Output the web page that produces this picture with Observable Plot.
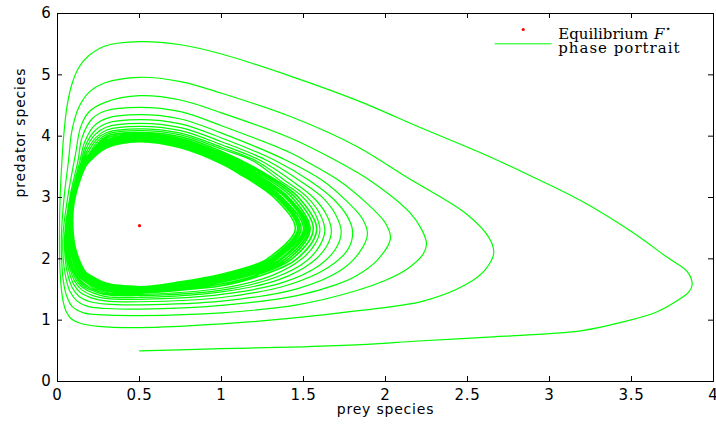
<!DOCTYPE html>
<html><head><meta charset="utf-8">
<script src="https://cdn.jsdelivr.net/npm/d3@7"></script>
<script src="https://cdn.jsdelivr.net/npm/@observablehq/plot@0.6"></script>
<style>
body{margin:0;background:#fff;}
#chart{width:716px;height:425px;}
g[font-family="DejaVu Serif"] text{letter-spacing:0px}
g[font-family="DejaVu Serif"][font-weight="400"] text{letter-spacing:1px}
</style></head><body><div id="chart"></div>
<script>
// ---- data (prey, predator) ----
const xTicks = [0, 0.5, 1, 1.5, 2, 2.5, 3, 3.5, 4];
const xTickLabels = ["0", "0.5", "1", "1.5", "2", "2.5", "3", "3.5", "4"];
const yTicks = [0, 1, 2, 3, 4, 5, 6];
const yTickLabels = ["0", "1", "2", "3", "4", "5", "6"];
const eqPrey = [0.5];
const eqPredator = [2.54];

const rev0 = [[0.5,0.5],[1.0,0.535],[1.5,0.565],[1.85,0.6],[2.2,0.66],[2.6,0.72],[3.0,0.78],[3.2,0.83],[3.43,0.96],[3.65,1.13],[3.78,1.32],[3.85,1.46],[3.87,1.58],[3.84,1.79],[3.72,2.02],[3.49,2.46],[3.19,2.95],[2.88,3.36],[2.58,3.73],[2.23,4.12],[1.83,4.58],[1.42,4.98],[1.0,5.34],[0.75,5.49],[0.5,5.54],[0.29,5.47],[0.19,5.31],[0.13,5.12],[0.088,4.85],[0.057,4.47],[0.037,3.98],[0.027,3.6],[0.016,3.0],[0.012,2.4],[0.014,1.9],[0.022,1.55],[0.035,1.3],[0.055,1.13],[0.085,1.02],[0.14,0.95],[0.25,0.9]];
const rev1 = [[0.5,0.88],[1.0,0.94],[1.46,1.04],[1.82,1.15],[2.23,1.31],[2.49,1.58],[2.61,1.83],[2.66,2.1],[2.63,2.35],[2.49,2.74],[2.13,3.33],[1.82,3.84],[1.42,4.32],[1.0,4.7],[0.75,4.89],[0.5,4.96],[0.29,4.87],[0.19,4.71],[0.13,4.47],[0.088,4.09],[0.067,3.6],[0.04,3.0],[0.024,2.4],[0.025,2.0],[0.035,1.65],[0.055,1.4],[0.09,1.22],[0.16,1.12],[0.28,1.085]];
const rev2 = [[0.5,1.075],[1.0,1.12],[1.46,1.25],[1.82,1.48],[2.0,1.65],[2.13,1.83],[2.23,2.08],[2.25,2.25],[2.22,2.48],[2.15,2.75],[1.91,3.27],[1.7,3.6],[1.42,3.97],[1.0,4.38],[0.75,4.59],[0.5,4.66],[0.29,4.55],[0.19,4.39],[0.14,4.14],[0.11,3.71],[0.062,3.0],[0.034,2.4],[0.035,2.0],[0.05,1.7],[0.075,1.47],[0.12,1.31],[0.19,1.22],[0.3,1.19]];
const rev3 = [[0.5,1.18],[1.0,1.24],[1.46,1.4],[1.7,1.58],[1.82,1.72],[1.95,1.98],[2.03,2.33],[2.0,2.58],[1.88,2.92],[1.72,3.27],[1.51,3.6],[1.42,3.73],[1.0,4.17],[0.75,4.4],[0.5,4.47],[0.29,4.41],[0.21,4.28],[0.15,3.98],[0.125,3.6],[0.075,3.0],[0.044,2.4],[0.047,2.0],[0.062,1.75],[0.09,1.53],[0.13,1.39],[0.2,1.3],[0.3,1.26]];
const rev4 = [[0.5,1.25],[1.0,1.31],[1.46,1.51],[1.72,1.8],[1.84,2.1],[1.89,2.4],[1.86,2.65],[1.76,2.95],[1.62,3.27],[1.4,3.6],[1.0,4.05],[0.75,4.28],[0.5,4.35],[0.3,4.29],[0.22,4.16],[0.165,3.9],[0.137,3.6],[0.082,3.0],[0.051,2.4],[0.055,2.0],[0.072,1.78],[0.1,1.58],[0.14,1.45],[0.21,1.36],[0.3,1.31]];
const rev5 = [[0.5,1.3],[1.0,1.37],[1.4,1.57],[1.65,1.86],[1.77,2.15],[1.8,2.43],[1.77,2.68],[1.68,2.98],[1.54,3.27],[1.33,3.6],[1.0,3.97],[0.75,4.2],[0.5,4.27],[0.3,4.21],[0.225,4.08],[0.17,3.84],[0.146,3.6],[0.087,3.0],[0.057,2.4],[0.062,2.0],[0.08,1.8],[0.108,1.62],[0.15,1.49],[0.215,1.4],[0.3,1.35]];
const rev6 = [[0.5,1.34],[1.0,1.42],[1.38,1.62],[1.6,1.9],[1.7,2.18],[1.73,2.44],[1.7,2.7],[1.62,2.99],[1.48,3.27],[1.28,3.6],[1.0,3.91],[0.75,4.14],[0.5,4.21],[0.3,4.15],[0.23,4.03],[0.175,3.8],[0.153,3.6],[0.091,3.0],[0.063,2.4],[0.068,2.0],[0.086,1.82],[0.114,1.65],[0.155,1.53],[0.22,1.44],[0.3,1.38]];
const rev7 = [[0.5,1.37],[1.0,1.46],[1.35,1.66],[1.55,1.94],[1.64,2.2],[1.67,2.45],[1.64,2.72],[1.56,3.0],[1.43,3.27],[1.24,3.6],[1.0,3.86],[0.75,4.09],[0.5,4.16],[0.3,4.1],[0.235,3.98],[0.18,3.76],[0.159,3.6],[0.094,3.0],[0.068,2.4],[0.073,2.02],[0.09,1.84],[0.12,1.67],[0.16,1.55],[0.225,1.47],[0.3,1.41]];
const rev8 = [[0.5,1.4],[1.0,1.49],[1.33,1.7],[1.52,1.97],[1.6,2.22],[1.63,2.46],[1.6,2.73],[1.52,3.01],[1.39,3.27],[1.21,3.6],[1.0,3.82],[0.75,4.05],[0.5,4.12],[0.3,4.06],[0.24,3.95],[0.185,3.73],[0.164,3.6],[0.097,3.0],[0.072,2.4],[0.077,2.03],[0.094,1.85],[0.124,1.69],[0.164,1.57],[0.23,1.49],[0.3,1.43]];
const rev9 = [[0.5,1.42],[1.0,1.52],[1.31,1.73],[1.49,2.0],[1.57,2.24],[1.6,2.47],[1.57,2.74],[1.49,3.02],[1.36,3.27],[1.19,3.6],[1.0,3.79],[0.75,4.02],[0.5,4.09],[0.3,4.03],[0.245,3.92],[0.19,3.7],[0.168,3.6],[0.099,3.0],[0.076,2.4],[0.08,2.04],[0.097,1.86],[0.127,1.7],[0.167,1.59],[0.232,1.51],[0.3,1.45]];
const rev10 = [[0.5,1.44],[0.75,1.49],[1.0,1.56],[1.22,1.71],[1.46,2.0],[1.58,2.48],[1.47,3.0],[1.26,3.4],[1.0,3.75],[0.75,3.99],[0.5,4.06],[0.3,4.0],[0.2,3.72],[0.159,3.5],[0.097,2.9],[0.08,2.3],[0.086,2.05],[0.133,1.71],[0.2,1.573],[0.3,1.47]];
const rev11 = [[0.5,1.455],[0.75,1.51],[1.0,1.59],[1.22,1.74],[1.43,2.0],[1.56,2.48],[1.45,3.0],[1.24,3.4],[1.0,3.72],[0.75,3.96],[0.5,4.04],[0.3,3.97],[0.2,3.7],[0.161,3.5],[0.098,2.9],[0.083,2.3],[0.092,2.05],[0.139,1.725],[0.2,1.597],[0.3,1.49]];
const rev12 = [[0.5,1.47],[0.75,1.53],[1.0,1.62],[1.22,1.77],[1.41,2.0],[1.54,2.48],[1.43,3.0],[1.22,3.4],[1.0,3.7],[0.75,3.94],[0.5,4.02],[0.3,3.94],[0.2,3.685],[0.162,3.5],[0.098,2.9],[0.085,2.3],[0.097,2.05],[0.144,1.735],[0.2,1.617],[0.3,1.51]];
const rev13 = [[0.5,1.48],[0.75,1.545],[1.0,1.64],[1.22,1.79],[1.39,2.0],[1.53,2.48],[1.41,3.0],[1.2,3.4],[1.0,3.675],[0.75,3.92],[0.5,4.0],[0.3,3.92],[0.2,3.673],[0.163,3.5],[0.098,2.9],[0.088,2.3],[0.101,2.05],[0.148,1.743],[0.2,1.634],[0.3,1.52]];
const rev14 = [[0.5,1.49],[0.75,1.556],[1.0,1.65],[1.22,1.81],[1.37,2.0],[1.52,2.48],[1.4,3.0],[1.18,3.4],[1.0,3.656],[0.75,3.9],[0.5,3.99],[0.3,3.91],[0.2,3.662],[0.164,3.5],[0.099,2.9],[0.089,2.3],[0.104,2.05],[0.151,1.75],[0.2,1.649],[0.3,1.53]];
const rev15 = [[0.5,1.5],[0.75,1.567],[1.0,1.67],[1.22,1.827],[1.36,2.0],[1.51,2.48],[1.39,3.0],[1.17,3.4],[1.0,3.639],[0.75,3.89],[0.5,3.98],[0.3,3.89],[0.2,3.652],[0.165,3.5],[0.099,2.9],[0.091,2.3],[0.107,2.05],[0.154,1.757],[0.2,1.662],[0.3,1.544]];
const rev16 = [[0.5,1.51],[0.75,1.578],[1.0,1.68],[1.22,1.845],[1.34,2.0],[1.5,2.48],[1.37,3.0],[1.16,3.4],[1.0,3.622],[0.75,3.87],[0.5,3.96],[0.3,3.88],[0.2,3.642],[0.166,3.5],[0.099,2.9],[0.093,2.3],[0.11,2.05],[0.157,1.763],[0.2,1.675],[0.3,1.555]];
const rev17 = [[0.5,1.52],[0.75,1.589],[1.0,1.7],[1.22,1.862],[1.33,2.0],[1.485,2.48],[1.36,3.0],[1.14,3.4],[1.0,3.605],[0.75,3.86],[0.5,3.95],[0.3,3.86],[0.2,3.632],[0.167,3.5],[0.099,2.9],[0.094,2.3],[0.113,2.05],[0.16,1.769],[0.2,1.687],[0.3,1.565]];
const rev18 = [[0.5,1.525],[0.75,1.6],[1.0,1.715],[1.22,1.88],[1.314,2.0],[1.474,2.48],[1.349,3.0],[1.13,3.4],[1.0,3.588],[0.75,3.844],[0.5,3.939],[0.3,3.845],[0.2,3.622],[0.168,3.5],[0.1,2.9],[0.096,2.3],[0.116,2.05],[0.163,1.776],[0.2,1.7],[0.3,1.576]];
const rev19 = [[0.5,1.534],[0.75,1.611],[1.0,1.73],[1.22,1.898],[1.299,2.0],[1.464,2.48],[1.336,3.0],[1.117,3.4],[1.0,3.572],[0.75,3.829],[0.5,3.926],[0.3,3.83],[0.2,3.613],[0.169,3.5],[0.1,2.9],[0.098,2.3],[0.119,2.05],[0.166,1.782],[0.2,1.713],[0.3,1.586]];
const limitCycle = [[0.5,1.545],[0.75,1.625],[1.0,1.75],[1.22,1.92],[1.28,2.0],[1.45,2.48],[1.32,3.0],[1.1,3.4],[1.0,3.55],[0.75,3.81],[0.5,3.91],[0.3,3.81],[0.2,3.6],[0.17,3.5],[0.1,2.9],[0.1,2.3],[0.123,2.05],[0.17,1.79],[0.2,1.73],[0.3,1.6],[0.5,1.545]];

const outerRevolutions = [rev0, rev1, rev2, rev3, rev4, rev5, rev6, rev7, rev8, rev9];
const innerRevolutions = [rev10, rev11, rev12, rev13, rev14, rev15, rev16, rev17, rev18, rev19, limitCycle];
const toRows = arr => arr.map(([prey, predator]) => ({prey, predator}));
const outerPath = toRows([...outerRevolutions.flat(), rev10[0]]);
const innerPath = toRows(innerRevolutions.flat());
const equilibrium = eqPrey.map((p, i) => ({prey: p, predator: eqPredator[i]}));

const legendLine = {draw(ctx) { ctx.moveTo(-28.5, 0); ctx.lineTo(28.5, 0); }};
const serif = "DejaVu Serif";
const green = "#00ff00";

const chart = Plot.plot({
  width: 716, height: 425,
  marginLeft: 57, marginRight: 3, marginTop: 13, marginBottom: 44,
  style: {fontFamily: "DejaVu Sans", fontSize: "15px", background: "white", color: "black", letterSpacing: "0.8px"},
  x: {domain: [0, 4], ticks: xTicks, tickSize: 0, tickPadding: 8, tickFormat: d => xTickLabels[xTicks.indexOf(d)], label: null},
  y: {domain: [0, 6], ticks: yTicks, tickSize: 0, tickPadding: 6, tickFormat: d => yTickLabels[yTicks.indexOf(d)], label: null},
  marks: [
    Plot.line(outerPath, {x: "prey", y: "predator", curve: "catmull-rom", stroke: green, strokeWidth: 1.2}),
    Plot.line(innerPath, {x: "prey", y: "predator", curve: "catmull-rom", stroke: green, strokeWidth: 1.6}),
    Plot.dot(equilibrium, {x: "prey", y: "predator", r: 1.6, fill: "#ff0000", stroke: "none"}),
    Plot.tickX(xTicks, {x: d => d, insetTop: 363, stroke: "black"}),
    Plot.tickX(xTicks, {x: d => d, insetBottom: 363, stroke: "black"}),
    Plot.tickY(yTicks, {y: d => d, insetRight: 651, stroke: "black"}),
    Plot.tickY(yTicks, {y: d => d, insetLeft: 651, stroke: "black"}),
    Plot.frame({stroke: "black"}),
    Plot.text(["prey species"], {text: d => d, frameAnchor: "bottom", dy: 32, fontSize: 14}),
    Plot.text(["predator species"], {text: d => d, frameAnchor: "left", dx: -37, rotate: -90, fontSize: 14}),
    // legend
    Plot.dot([0], {frameAnchor: "top-right", dx: -190.3, dy: 16, r: 1.6, fill: "#ff0000", stroke: "none"}),
    Plot.dot([0], {frameAnchor: "top-right", dx: -190.3, dy: 30.3, r: 5, symbol: legendLine, fill: "none", stroke: green, strokeWidth: 1}),
    Plot.text(["Equilibrium"], {text: d => d, frameAnchor: "top-right", dx: -155.3, dy: 15.2, textAnchor: "start", fontFamily: serif, fontSize: 15}),
    Plot.text(["F"], {text: d => d, frameAnchor: "top-right", dx: -59.5, dy: 15.2, textAnchor: "start", fontFamily: serif, fontSize: 15, fontStyle: "italic"}),
    Plot.text(["\u22C6"], {text: d => d, frameAnchor: "top-right", dx: -49, dy: 11, textAnchor: "start", fontFamily: serif, fontSize: 10}),
    Plot.text(["phase portrait"], {text: d => d, frameAnchor: "top-right", dx: -155.3, dy: 28.6, textAnchor: "start", fontFamily: serif, fontSize: 15, fontWeight: 400})
  ]
});
document.getElementById("chart").append(chart);
</script></body></html>
